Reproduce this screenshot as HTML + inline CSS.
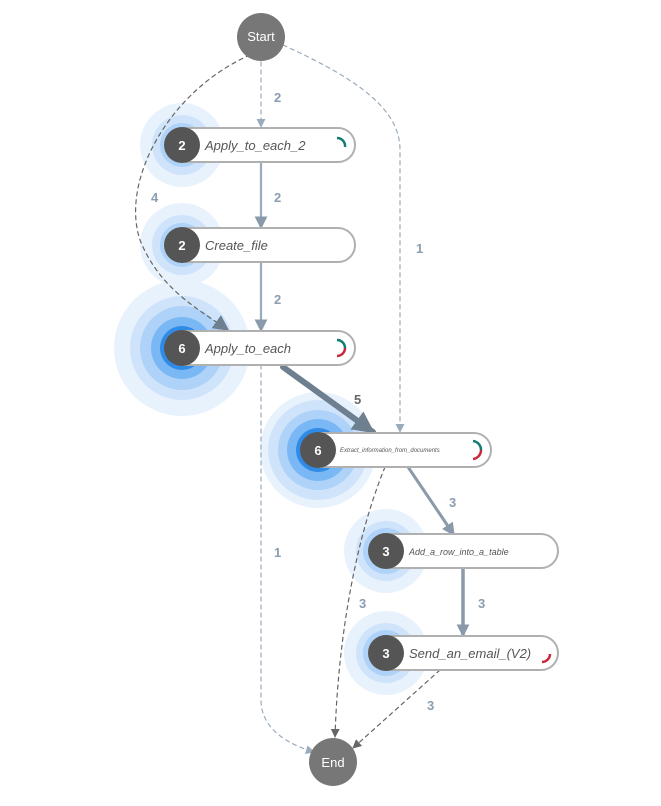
<!DOCTYPE html>
<html><head><style>body{margin:0;background:#fff}svg{display:block}text{font-family:"Segoe UI","Liberation Sans",sans-serif}</style></head><body>
<svg width="661" height="806" viewBox="0 0 661 806" xmlns="http://www.w3.org/2000/svg">
<defs>
<marker id="a" viewBox="0 0 10 10" refX="9" refY="5" markerUnits="userSpaceOnUse" markerWidth="9" markerHeight="9" orient="auto"><path d="M0,0L10,5L0,10z" fill="#9aabbb"/></marker>
<marker id="b" viewBox="0 0 10 10" refX="9" refY="5" markerUnits="userSpaceOnUse" markerWidth="13" markerHeight="13" orient="auto"><path d="M0,0L10,5L0,10z" fill="#8a9aaa"/></marker>
<marker id="c" viewBox="0 0 10 10" refX="9" refY="5" markerUnits="userSpaceOnUse" markerWidth="22" markerHeight="22" orient="auto"><path d="M0,0L10,5L0,10z" fill="#6e7f8f"/></marker>
<marker id="d" viewBox="0 0 10 10" refX="9" refY="5" markerUnits="userSpaceOnUse" markerWidth="9" markerHeight="9" orient="auto"><path d="M0,0L10,5L0,10z" fill="#666"/></marker>
<marker id="e" viewBox="0 0 10 10" refX="9" refY="5" markerUnits="userSpaceOnUse" markerWidth="16" markerHeight="16" orient="auto"><path d="M0,0L10,5L0,10z" fill="#6e7f8f"/></marker>
</defs>
<g fill="#d9eafc" opacity="0.6">
<circle cx="182" cy="145" r="42"/><circle cx="182" cy="245" r="42"/><circle cx="386" cy="551" r="42"/><circle cx="386" cy="653" r="42"/>
<circle cx="182" cy="348" r="68"/><circle cx="318" cy="450" r="58"/>
</g>
<g fill="#cfe4fb"><circle cx="182" cy="145" r="30"/><circle cx="182" cy="245" r="30"/><circle cx="386" cy="551" r="30"/><circle cx="386" cy="653" r="30"/><circle cx="182" cy="348" r="52"/><circle cx="318" cy="450" r="50"/></g>
<g fill="#aed2f8"><circle cx="182" cy="348" r="42"/><circle cx="318" cy="450" r="40"/><circle cx="386" cy="551" r="23"/><circle cx="386" cy="653" r="23"/><circle cx="182" cy="145" r="22"/><circle cx="182" cy="245" r="22"/></g>
<g fill="#7ab8f5"><circle cx="182" cy="348" r="31"/><circle cx="318" cy="450" r="31"/></g>
<g fill="#2f8be6"><circle cx="182" cy="348" r="22"/><circle cx="318" cy="450" r="22"/></g>
<g fill="none" stroke-linecap="round">
<path d="M261,62V127" stroke="#9aabbb" stroke-width="1.2" stroke-dasharray="4,4" marker-end="url(#a)"/>
<path d="M250,55C170,90 120,180 140,240C160,290 200,310 228,330" stroke="#666" stroke-width="1.2" stroke-dasharray="4,4" marker-end="url(#e)"/>
<path d="M283,45C360,80 400,110 400,150V432" stroke="#9aabbb" stroke-width="1.2" stroke-dasharray="4,4" marker-end="url(#a)"/>
<path d="M261,162V228" stroke="#9aabbb" stroke-width="2.2" marker-end="url(#b)"/>
<path d="M261,262V331" stroke="#9aabbb" stroke-width="2.2" marker-end="url(#b)"/>
<path d="M283,367L373,432" stroke="#6e7f8f" stroke-width="6" marker-end="url(#c)"/>
<path d="M261,365V700C261,730 290,745 314,752" stroke="#9aabbb" stroke-width="1.2" stroke-dasharray="4,4" marker-end="url(#a)"/>
<path d="M408,467L454,535" stroke="#8a9aaa" stroke-width="3" marker-end="url(#b)"/>
<path d="M385,467C355,540 338,640 335,737" stroke="#666" stroke-width="1.2" stroke-dasharray="4,4" marker-end="url(#d)"/>
<path d="M463,568V636" stroke="#8a9aaa" stroke-width="3.5" marker-end="url(#b)"/>
<path d="M440,670L353,748" stroke="#666" stroke-width="1.2" stroke-dasharray="4,4" marker-end="url(#d)"/>
</g>
<g fill="#8b9db0" font-size="13" font-weight="600">
<text x="274" y="102">2</text><text x="274" y="202">2</text><text x="274" y="304">2</text>
<text x="151" y="202">4</text><text x="416" y="253">1</text><text x="354" y="404" fill="#666">5</text>
<text x="274" y="557">1</text><text x="449" y="507">3</text><text x="359" y="608">3</text>
<text x="478" y="608">3</text><text x="427" y="710">3</text>
</g>
<g fill="#fff" stroke="#b0b0b0" stroke-width="2">
<rect x="168" y="128" width="187" height="34" rx="17"/>
<rect x="168" y="228" width="187" height="34" rx="17"/>
<rect x="168" y="331" width="187" height="34" rx="17"/>
<rect x="304" y="433" width="187" height="34" rx="17"/>
<rect x="372" y="534" width="186" height="34" rx="17"/>
<rect x="372" y="636" width="186" height="34" rx="17"/>
</g>
<g fill="#555"><circle cx="182" cy="145" r="18"/><circle cx="182" cy="245" r="18"/><circle cx="182" cy="348" r="18"/><circle cx="318" cy="450" r="18"/><circle cx="386" cy="551" r="18"/><circle cx="386" cy="653" r="18"/></g>
<g fill="#777"><circle cx="261" cy="37" r="24"/><circle cx="333" cy="762" r="24"/></g>
<g fill="#fff" font-size="13" font-weight="700" text-anchor="middle">
<text x="182" y="150">2</text><text x="182" y="250">2</text><text x="182" y="353">6</text><text x="318" y="455">6</text><text x="386" y="556">3</text><text x="386" y="658">3</text>
<text x="261" y="41" font-weight="400">Start</text><text x="333" y="767" font-weight="400">End</text>
</g>
<g fill="#555" font-style="italic" font-size="13">
<text x="205" y="150">Apply_to_each_2</text><text x="205" y="250">Create_file</text><text x="205" y="353">Apply_to_each</text>
<text x="340" y="452" font-size="6">Extract_information_from_documents</text>
<text x="409" y="555" font-size="9">Add_a_row_into_a_table</text>
<text x="409" y="658">Send_an_email_(V2)</text>
</g>
<g fill="none" stroke-width="2.5">
<path d="M337,138A8,8 0 0 1 345,147" stroke="#127b72"/>
<path d="M337,340A8,8 0 0 1 345,348" stroke="#127b72"/><path d="M345,348A8,8 0 0 1 337,356" stroke="#c8283c"/>
<path d="M473,441A9,9 0 0 1 481,450" stroke="#127b72"/><path d="M481,450A9,9 0 0 1 473,459" stroke="#c8283c"/>
<path d="M550,654A8,8 0 0 1 542,662" stroke="#c8283c"/>
</g>
</svg>
</body></html>
